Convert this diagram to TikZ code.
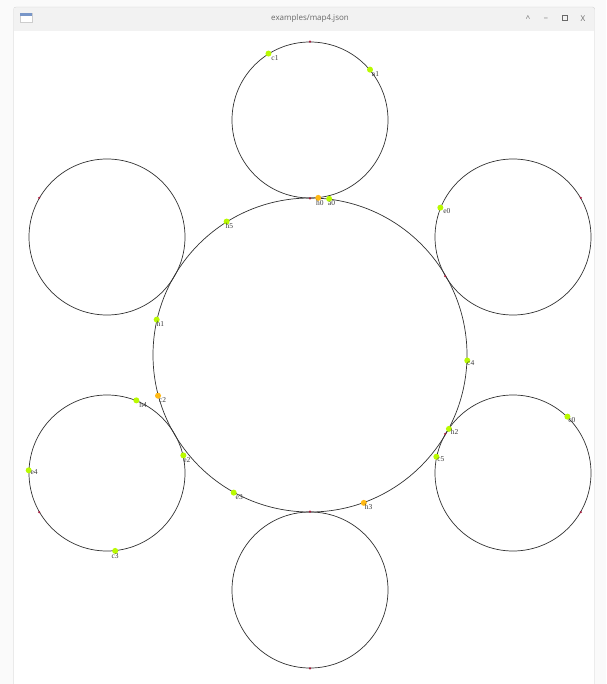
\documentclass[tikz,border=0pt]{standalone}
\usepackage{fontspec}
\setmainfont{Liberation Serif}
\newfontfamily\titlefont{Open Sans}
\usetikzlibrary{positioning}
\definecolor{Desk}{RGB}{250,250,250}
\definecolor{Frame}{RGB}{205,205,205}
\definecolor{TitleBar}{RGB}{242,242,242}
\definecolor{TitleText}{RGB}{105,105,105}
\definecolor{IconTop}{RGB}{120,150,200}
\definecolor{Ring}{RGB}{50,50,50}
\definecolor{Lime}{RGB}{185,250,0}
\definecolor{Amber}{RGB}{255,185,20}
\definecolor{Pin}{RGB}{165,25,60}
\definecolor{TagText}{RGB}{60,60,60}
\tikzset{
  ring/.style={circle,draw=Ring,line width=.7pt,inner sep=0pt},
  hub/.style={ring,minimum size=314pt},
  sat/.style={ring,minimum size=156pt},
  blob/.style={circle,fill=Lime,inner sep=0pt,minimum size=6pt},
  hot/.style={blob,fill=Amber},
  pin/.style={circle,fill=Pin,inner sep=0pt,minimum size=2.4pt},
  tag/.style={font=\fontsize{7.5}{7.5}\selectfont,text=TagText,inner sep=.5pt},
  btn/.style={font=\titlefont\fontsize{8}{8}\selectfont,text=TitleText,inner sep=0pt}
}
\begin{document}
\begin{tikzpicture}[x=1pt,y=-1pt]
  \useasboundingbox (0,0) rectangle (606,684);
  \fill[Desk] (0,0) rectangle (606,684);
  % window frame
  \node[draw=Frame,fill=white,rounded corners=2pt,minimum width=581pt,minimum height=680pt,anchor=north west,inner sep=0pt] (win) at (13.5,7) {};
  \node[fill=TitleBar,minimum width=580pt,minimum height=23pt,anchor=north west,inner sep=0pt] (bar) at (14,7.5) {};
  \node[draw=Frame,fill=white,minimum width=12pt,minimum height=9pt,inner sep=0pt] (icon) at (26,18) {};
  \node[fill=IconTop,minimum width=12pt,minimum height=2.5pt,anchor=north,inner sep=0pt] (iconbar) at (icon.north) {};
  \node[btn] (title) at (310,18.5) {examples/map4.json};
  \node[btn] (bup) at (528,18.5) {\^{}};
  \node[btn] (bmin) at (546,18.5) {\_};
  \node[btn] (bmax) at (565,18.5) {\raisebox{.5pt}{\tikz\draw[TitleText,line width=1.1pt] (0,0) rectangle (5pt,5pt);}};
  \node[btn] (bx) at (583,18.5) {X};
  % rings
  \node[hub] (core) at (310,355) {};
  \node[sat] (sN) at (310,120) {};
  \node[sat] (sNE) at (513,237) {};
  \node[sat] (sSE) at (513,473) {};
  \node[sat] (sS) at (310,590) {};
  \node[sat] (sSW) at (107,473) {};
  \node[sat] (sNW) at (107,237) {};
  % end pins
  \node[pin] (pN) at (sN.90) {};
  \node[pin] (pNE) at (sNE.30) {};
  \node[pin] (pSE) at (sSE.330) {};
  \node[pin] (pS) at (sS.270) {};
  \node[pin] (pSW) at (sSW.210) {};
  \node[pin] (pNW) at (sNW.150) {};
  \node[pin] (tN) at (sN.270) {};
  \node[pin] (tNE) at (sNE.210) {};
  \node[pin] (tSE) at (sSE.150) {};
  \node[pin] (tS) at (sS.90) {};
  % stops
  \node[blob] (c1) at (sN.122) {};
  \node[tag,below right=-1pt and 0pt of c1] (c1t) {c1};
  \node[blob] (e1) at (sN.40) {};
  \node[tag,below right=-1pt and -1pt of e1] (e1t) {a1};
  \node[hot] (h0) at (core.87) {};
  \node[tag,below right=-1pt and -5pt of h0] (h0t) {h0};
  \node[blob] (e5) at (core.83) {};
  \node[tag,below right=-1pt and -4pt of e5] (e5t) {a0};
  \node[blob] (e0) at (sNE.158) {};
  \node[tag,below right=-2pt and 0pt of e0] (e0t) {e0};
  \node[blob] (h5) at (core.122) {};
  \node[tag,below right=-1pt and -4pt of h5] (h5t) {h5};
  \node[blob] (h1) at (core.167) {};
  \node[tag,below right=-1pt and -3pt of h1] (h1t) {h1};
  \node[blob] (c4) at (core.358) {};
  \node[tag,below right=-3pt and -3pt of c4] (c4t) {c4};
  \node[hot] (c2) at (core.195.5) {};
  \node[tag,below right=-1pt and -2pt of c2] (c2t) {c2};
  \node[blob] (h4) at (sSW.68) {};
  \node[tag,below right=-1pt and 0pt of h4] (h4t) {h4};
  \node[blob] (e2) at (sSW.13) {};
  \node[tag,below right=-1pt and -3pt of e2] (e2t) {e2};
  \node[blob] (h2) at (core.332) {};
  \node[tag,below right=-3pt and -1pt of h2] (h2t) {h2};
  \node[blob] (c5) at (sSE.168) {};
  \node[tag,below right=-3pt and -2pt of c5] (c5t) {c5};
  \node[blob] (c0) at (sSE.46) {};
  \node[tag,below right=-2pt and -2pt of c0] (c0t) {c0};
  \node[blob] (e4) at (sSW.178) {};
  \node[tag,below right=-4pt and -1pt of e4] (e4t) {e4};
  \node[blob] (c3) at (sSW.276) {};
  \node[tag,below=-1pt of c3] (c3t) {c3};
  \node[blob] (e3) at (core.241) {};
  \node[tag,below right=-1pt and -1pt of e3] (e3t) {e3};
  \node[hot] (h3) at (core.290) {};
  \node[tag,below right=-2pt and -2pt of h3] (h3t) {h3};
\end{tikzpicture}
\end{document}
